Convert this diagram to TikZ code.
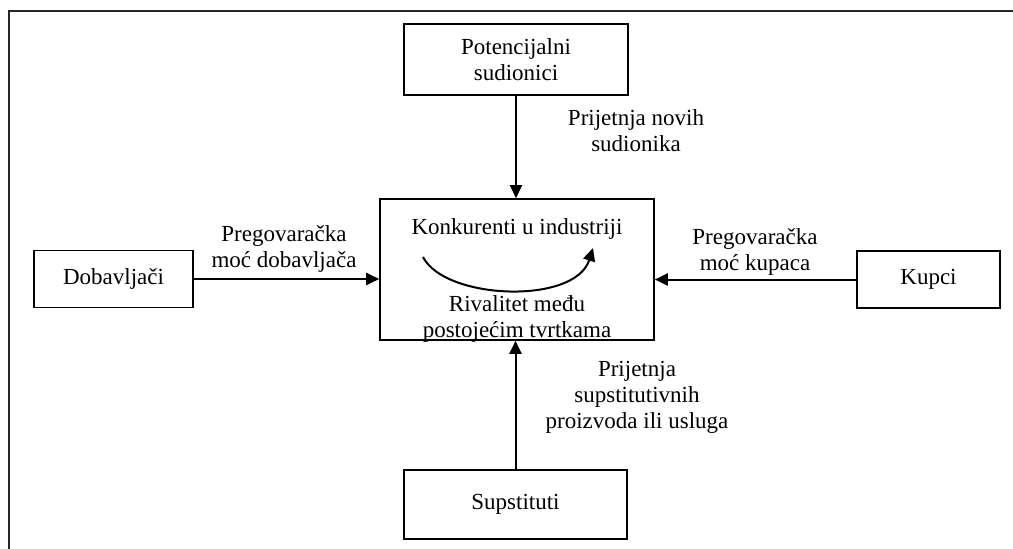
\documentclass[tikz,border=0pt]{standalone}
\usepackage{fontspec}
\setmainfont{Liberation Serif}
\usetikzlibrary{positioning,arrows.meta}

\begin{document}
\begin{tikzpicture}[x=1pt,y=-1pt,
  font=\fontsize{23}{26}\selectfont,
  box/.style={draw,line width=1.6pt,align=center,inner sep=0pt},
  lbl/.style={align=center,inner sep=0pt},
  arr/.style={line width=2pt,-{Triangle[length=13pt,width=12pt]}}]
\useasboundingbox (0,0) rectangle (1013,549);
\draw[line width=1.8pt,black!85] (1013,11) -- (9,11) -- (9,549);

\node[box,minimum width=224pt,minimum height=71pt] (pot) at (516,59.5) {Potencijalni\\sudionici};
\node[box,minimum width=274pt,minimum height=141pt] (konk) at (517,269.5) {};
\node[box,minimum width=159pt,minimum height=57pt] (dob) at (113.5,279) {Dobavljači};
\node[box,minimum width=143pt,minimum height=57pt] (kup) at (928.5,279.5) {Kupci};
\node[box,minimum width=223pt,minimum height=69pt] (sup) at (515.5,504.5) {Supstituti};

\node[lbl] (konkt) at (517,229) {Konkurenti u industriji};
\node[lbl] (rival) at (517,319) {Rivalitet među\\postojećim tvrtkama};
\coordinate (kpoc) at (423,257);
\coordinate (kkraj) at (593,248);
\draw[arr] (kpoc) .. controls (445,300) and (575,305) .. (kkraj);

\node[lbl] (lpot) at (636,131) {Prijetnja novih\\sudionika};
\node[lbl] (ldob) at (284,248.5) {Pregovaračka\\moć dobavljača};
\node[lbl] (lkup) at (755,251.5) {Pregovaračka\\moć kupaca};
\node[lbl] (lsup) at (637,397) {Prijetnja\\supstitutivnih\\proizvoda ili usluga};

\draw[arr] (pot.south) -- (pot.south |- konk.north);
\draw[arr] (sup.north) -- (sup.north |- konk.south);
\draw[arr] (dob.east) -- (dob.east -| konk.west);
\draw[arr] (kup.west) -- (kup.west -| konk.east);
\end{tikzpicture}
\end{document}
